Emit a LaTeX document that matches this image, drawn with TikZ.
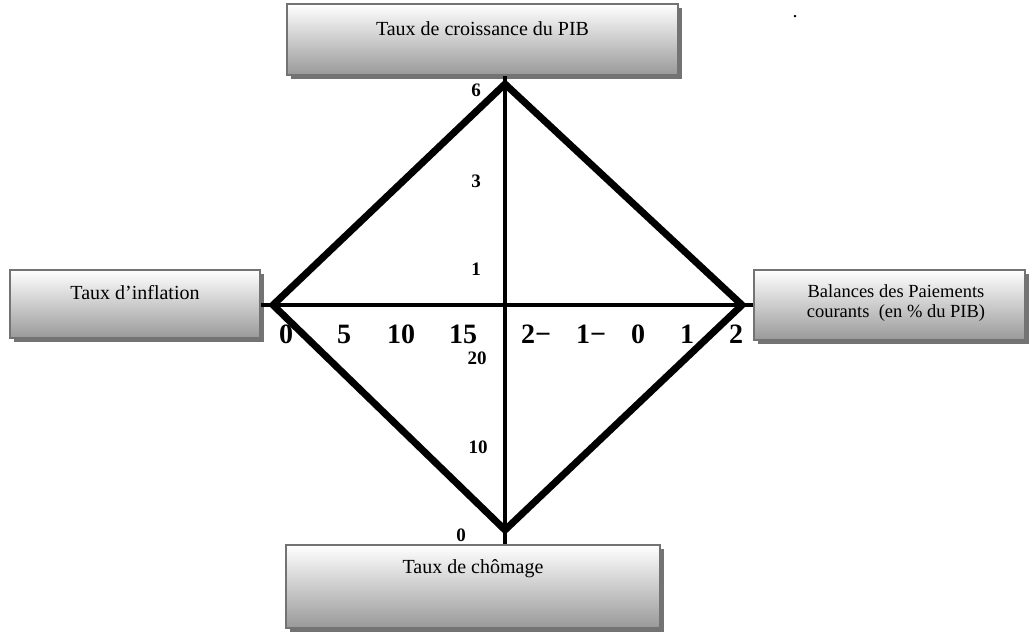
\documentclass[tikz,border=0pt]{standalone}
\usepackage{fontspec}
\setmainfont{Liberation Serif}
\usetikzlibrary{shadows}
\begin{document}
\begin{tikzpicture}[x=1pt,y=-1pt,
  panel/.style={draw=black!55, line width=1.5pt, top color=white, bottom color=black!40,
    general shadow={fill=black!55, shadow xshift=3.5pt, shadow yshift=-3.5pt},
    inner sep=0pt},
  caption/.style={font=\fontsize{20}{23}\selectfont, align=center, inner sep=0pt},
  xtick/.style={font=\fontsize{28}{30}\selectfont\bfseries, inner sep=0pt},
  ytick/.style={font=\fontsize{19}{21}\selectfont\bfseries, inner sep=0pt},
  diam/.style={line width=7pt, line join=miter},
  axis/.style={line width=4.5pt}]
\useasboundingbox (0,0) rectangle (1033,635);

% four shaded boxes
\node[panel, minimum width=391pt, minimum height=71pt] (top) at (482.5,39.5) {};
\node[panel, minimum width=250pt, minimum height=68pt] (left) at (135,304) {};
\node[panel, minimum width=271pt, minimum height=70pt] (right) at (889.5,305) {};
\node[panel, minimum width=374pt, minimum height=83pt] (bottom) at (473,586.5) {};

\node[caption] (toptext) at (482.5,29) {Taux de croissance du PIB};
\node[caption] (lefttext) at (135,293) {Taux d’inflation};
\node[caption, font=\fontsize{18.5}{20}\selectfont] (righttext) at (896,303) {Balances des Paiements\\courants~ (en \% du PIB)};
\node[caption] (bottomtext) at (473,569) {Taux de chômage};
\node[caption] (dot) at (795,17) {.};

% diamond corners
\coordinate (T) at (505,84);
\coordinate (R) at (742,305);
\coordinate (B) at (505,530);
\coordinate (L) at (273,305);

% axes
\draw[axis] (top.south -| T) -- (bottom.north -| B);
\draw[axis] (left.east |- L) -- (right.west |- R);

% diamond
\draw[diam] (T) -- (R) -- (B) -- (L) -- cycle;

% vertical scale
\node[ytick] (g6) at (476,90) {6};
\node[ytick] (g3) at (476,181) {3};
\node[ytick] (g1) at (476,269) {1};
\node[ytick] (u20) at (477,358) {20};
\node[ytick] (u10) at (478,447) {10};
\node[ytick] (u0) at (461,535) {0};

% horizontal scale
\node[xtick] (i0) at (286,334) {0};
\node[xtick] (i5) at (344,334) {5};
\node[xtick] (i10) at (401,334) {10};
\node[xtick] (i15) at (463,334) {15};
\node[xtick] (b2m) at (536,334) {2−};
\node[xtick] (b1m) at (591,334) {1−};
\node[xtick] (b0) at (638,334) {0};
\node[xtick] (b1) at (687,334) {1};
\node[xtick] (b2) at (736,334) {2};
\end{tikzpicture}
\end{document}
